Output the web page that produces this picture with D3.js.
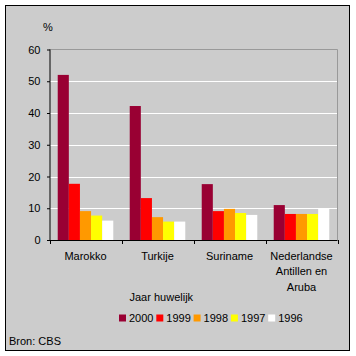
<!DOCTYPE html>
<html><head><meta charset="utf-8">
<script src="https://cdn.jsdelivr.net/npm/d3@7"></script>
<style>body{margin:0;background:#fff}svg text{font-family:"Liberation Sans",Arial,sans-serif;font-size:11px;fill:#000}</style>
</head><body>
<script>
const categories = [["Marokko"],["Turkije"],["Suriname"],["Nederlandse","Antillen en","Aruba"]];
const years = ["2000","1999","1998","1997","1996"];
const colors = ["#990033","#FF0000","#FF9900","#FFFF00","#FFFFFF"];
const v2000 = [52.0, 42.2, 17.6, 11.0];
const v1999 = [17.7, 13.2, 9.1, 8.2];
const v1998 = [9.1, 7.2, 9.8, 8.2];
const v1997 = [7.7, 5.8, 8.5, 8.2];
const v1996 = [6.1, 5.8, 7.9, 9.9];
const yTicks = [0,10,20,30,40,50,60];
const series = [v2000, v1999, v1998, v1997, v1996];

const W = 356, H = 356;
const svg = d3.select("body").append("svg").attr("width", W).attr("height", H);
svg.append("rect").attr("x",5.5).attr("y",5.5).attr("width",344).attr("height",345)
  .attr("fill","#CCCCCC").attr("stroke","#000").attr("stroke-width",1);

const L = 49.5, R = 337.5, T = 49.5, B = 240;
const catKeys = categories.map(c => c.join(" "));
const x0 = d3.scaleBand().domain(catKeys).range([L, R]).padding(0);
const x1 = d3.scaleBand().domain(years).range([0, x0.bandwidth()]).paddingInner(0).paddingOuter(0.74);
const y = d3.scaleLinear().domain([0,60]).range([B, T]);

// gridlines
svg.append("g").selectAll("line").data(yTicks.filter(t => t > 0 && t < 60)).join("line")
  .attr("x1", L).attr("x2", R).attr("y1", d => Math.round(y(d))+0.5).attr("y2", d => Math.round(y(d))+0.5)
  .attr("stroke","#fff").attr("stroke-width",1);
// plot border top & right
svg.append("path").attr("d", `M${L},${T}H${R}V${B}`).attr("fill","none").attr("stroke","#999").attr("stroke-width",1);

// bars
const g = svg.append("g");
categories.forEach((c, i) => {
  years.forEach((yr, j) => {
    const val = series[j][i];
    g.append("rect")
      .attr("x", x0(catKeys[i]) + x1(yr))
      .attr("y", y(val))
      .attr("width", x1.bandwidth())
      .attr("height", B - y(val))
      .attr("fill", colors[j]);
  });
});

// y axis
const yAxis = d3.axisLeft(y).tickValues(yTicks).tickSize(3).tickPadding(6);
const ya = svg.append("g").attr("transform", `translate(${L},0)`).call(yAxis);
ya.select(".domain").attr("stroke","#000").attr("d", `M0.5,${T}V${B}`);
ya.selectAll(".tick line").attr("stroke","#000").attr("transform","translate(0.5,0)");
ya.selectAll("text").style("font-size","11px").attr("fill","#000").attr("font-family","Liberation Sans, Arial, sans-serif");

// x axis
const xa = svg.append("g").attr("transform", `translate(0,${B})`);
xa.append("line").attr("x1",L).attr("x2",R).attr("y1",0.5).attr("y2",0.5).attr("stroke","#000");
const bounds = catKeys.map(k => x0(k)).concat([R]);
xa.selectAll("line.t").data(bounds).join("line").attr("class","t")
  .attr("x1", d => Math.round(d)+0.5).attr("x2", d => Math.round(d)+0.5).attr("y1",0).attr("y2",4).attr("stroke","#000");
categories.forEach((c, i) => {
  const t = xa.append("text").attr("text-anchor","middle")
    .attr("x", x0(catKeys[i]) + x0.bandwidth()/2).attr("y", 19.5);
  c.forEach((line, k) => t.append("tspan").attr("x", x0(catKeys[i]) + x0.bandwidth()/2).attr("dy", k === 0 ? 0 : 15.7).text(line));
});

svg.append("text").attr("x", 43).attr("y", 31).text("%");

// legend
svg.append("text").attr("x", 129.5).attr("y", 301).text("Jaar huwelijk");
const lg = svg.append("g");
years.forEach((yr, j) => {
  const lx = 119 + j*37.3;
  lg.append("rect").attr("x", lx).attr("y", 314.5).attr("width", 7).attr("height", 7).attr("fill", colors[j]);
  lg.append("text").attr("x", lx + 10).attr("y", 322).text(yr);
});

svg.append("text").attr("x", 9).attr("y", 345).text("Bron: CBS");
</script>
</body></html>
